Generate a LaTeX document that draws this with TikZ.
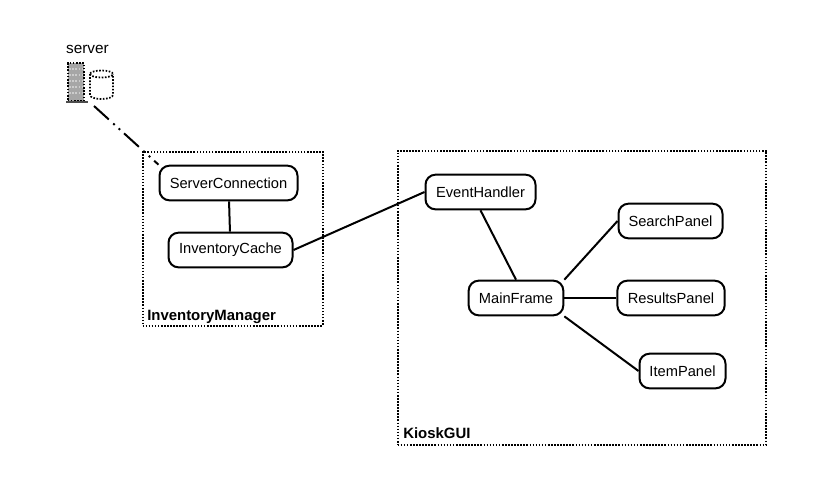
\documentclass[tikz,border=0pt]{standalone}
\usepackage{fontspec}
\setmainfont{Liberation Sans}
\usetikzlibrary{positioning}
\tikzset{
  classbox/.style={draw, line width=1.5pt, rounded corners=7.5pt, fill=white, inner sep=0pt, minimum height=26pt, font=\fontsize{11pt}{13pt}\selectfont},
  groupbox/.style={draw, line width=1.5pt, dash pattern=on 1.2pt off 1.1pt, inner sep=0pt},
  grouplabel/.style={inner sep=0pt, anchor=base west, font=\fontsize{11.2pt}{13pt}\selectfont\bfseries},
  link/.style={line width=1.5pt},
  dotline/.style={line width=1.3pt, dash pattern=on 1.2pt off 1.2pt}
}
\begin{document}
\begin{tikzpicture}[x=0.75pt,y=-0.75pt]
        \useasboundingbox (0,0) rectangle (837,483);
        \node[groupbox, minimum width=135pt, minimum height=130.5pt] (inv) at (232.5,238.5) {};
        \node[groupbox, minimum width=276.5pt, minimum height=220.5pt] (kiosk) at (582,297.5) {};
        \node[grouplabel] (invlabel) at (147,320) {InventoryManager};
        \node[grouplabel] (kiosklabel) at (403,438) {KioskGUI};

        \node[classbox, minimum width=103.5pt] (sc) at (228.5,183) {ServerConnection};
        \node[classbox, minimum width=93pt] (ic) at (230.5,250) {InventoryCache};
        \node[classbox, minimum width=82.5pt] (eh) at (480.5,192) {EventHandler};
        \node[classbox, minimum width=71pt] (mf) at (516,298) {MainFrame};
        \node[classbox, minimum width=78pt] (sp) at (670.5,221) {SearchPanel};
        \node[classbox, minimum width=80.5pt] (rp) at (671,298) {ResultsPanel};
        \node[classbox, minimum width=64.5pt] (ip) at (682.5,371) {ItemPanel};

        % server and its store
        \node[inner sep=0pt, font=\fontsize{11.5pt}{13pt}\selectfont] (srvlabel) at (87.5,49) {server};
        \node[draw, dotline, fill=gray!70, inner sep=0pt, minimum width=12.5pt, minimum height=28pt] (srv) at (76,82) {};
        \foreach \y in {69,75,81,87,93}
            \draw[dotline, white!80!black] (69,\y) -- (83,\y);
        \draw[line width=1.2pt, gray!60!black] (66,102) -- (88,102);
        \draw[dotline] (90,74) arc[start angle=180, end angle=-180, x radius=11.5, y radius=3.5];
        \draw[dotline] (90,74) -- (90,95) arc[start angle=180, end angle=0, x radius=11.5, y radius=4] -- (113,74);

        \coordinate (srvend) at (94,106);
        \draw[link, dash pattern=on 15pt off 4.5pt on 1.5pt off 4pt on 1.5pt off 4pt] (srvend) -- (sc.north west);
        \draw[link] (sc) -- (ic);
        \draw[link] (ic.east) -- (eh.west);
        \draw[link] (eh.south) -- (mf.north);
        \draw[link] (mf.north east) -- (sp.west);
        \draw[link] (mf) -- (rp);
        \draw[link] (mf.south east) -- (ip.west);
\end{tikzpicture}
\end{document}
